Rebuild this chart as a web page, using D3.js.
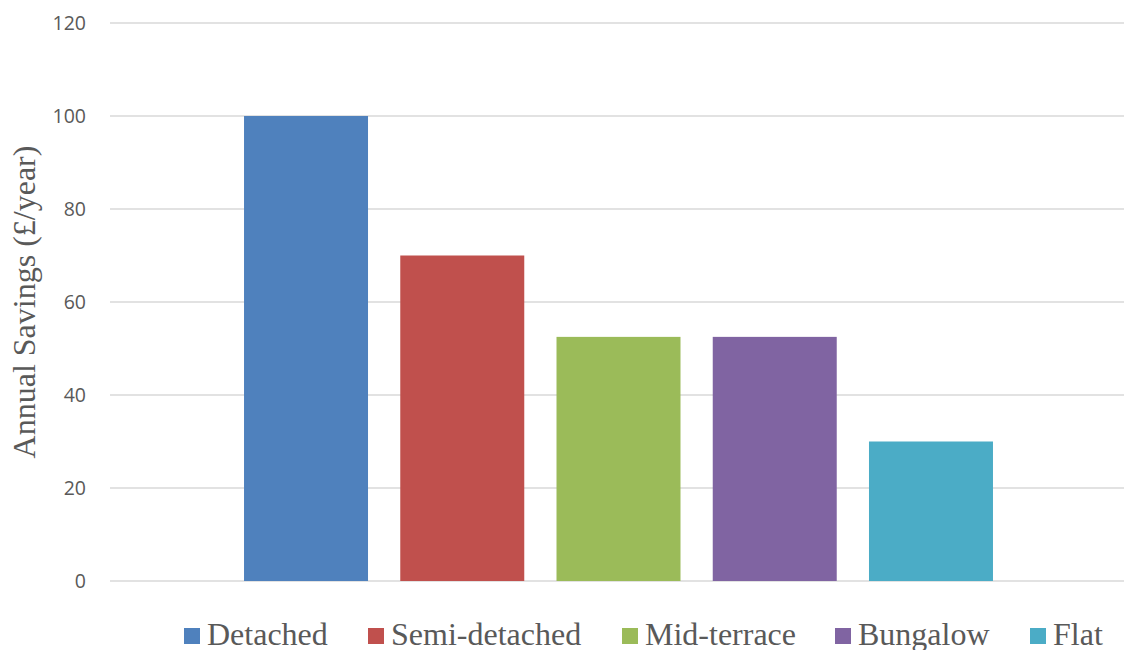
<!DOCTYPE html>
<html>
<head>
<meta charset="utf-8">
<script src="https://cdn.jsdelivr.net/npm/d3@7"></script>
<style>
  html, body { margin: 0; padding: 0; background: #fff; }
  svg { display: block; }
</style>
</head>
<body>
<svg id="chart" width="1124" height="650"></svg>
<script>
const categories = ["Detached", "Semi-detached", "Mid-terrace", "Bungalow", "Flat"];
const values = [100, 70, 52.5, 52.5, 30];
const colors = ["#4F81BD", "#C0504D", "#9BBB59", "#8064A2", "#4BACC6"];
const yTicks = [0, 20, 40, 60, 80, 100, 120];
const yTitle = "Annual Savings (£/year)";

const svg = d3.select("#chart");
const plotLeft = 110, plotRight = 1124;

const y = d3.scaleLinear().domain([0, 120]).range([581, 23]);
const pi = 0.2064;
const x = d3.scaleBand().domain(categories)
  .range([227.9, 1009.1]).paddingInner(pi).paddingOuter(pi / 2);

// gridlines
svg.append("g").selectAll("line").data(yTicks).join("line")
  .attr("x1", plotLeft).attr("x2", plotRight)
  .attr("y1", d => y(d)).attr("y2", d => y(d))
  .attr("stroke", "#d9d9d9").attr("stroke-width", 1.3);

// y axis labels
const yAxis = d3.axisLeft(y).tickValues(yTicks).tickSize(0).tickPadding(0);
const gy = svg.append("g").attr("transform", "translate(86,0)").call(yAxis);
gy.select(".domain").remove();
gy.selectAll("text")
  .attr("font-family", "'Open Sans', sans-serif")
  .attr("font-size", 19.5)
  .attr("fill", "#595959");

// bars
svg.append("g").selectAll("rect").data(categories).join("rect")
  .attr("x", d => x(d))
  .attr("width", x.bandwidth())
  .attr("y", (d, i) => y(values[i]))
  .attr("height", (d, i) => y(0) - y(values[i]))
  .attr("fill", (d, i) => colors[i]);

// y title
svg.append("text")
  .attr("transform", "translate(35,302) rotate(-90)")
  .attr("text-anchor", "middle")
  .attr("font-family", "'Liberation Serif', 'Times New Roman', serif")
  .attr("font-size", 32)
  .attr("fill", "#595959")
  .text(yTitle);

// legend
const legendX = [184, 368, 622, 835, 1030];
const lg = svg.append("g");
categories.forEach((c, i) => {
  lg.append("rect").attr("x", legendX[i]).attr("y", 628)
    .attr("width", 16).attr("height", 16).attr("fill", colors[i]);
  lg.append("text").attr("x", legendX[i] + 23).attr("y", 645)
    .attr("font-family", "'Liberation Serif', 'Times New Roman', serif")
    .attr("font-size", 32)
    .attr("fill", "#595959")
    .text(c);
});
</script>
</body>
</html>
